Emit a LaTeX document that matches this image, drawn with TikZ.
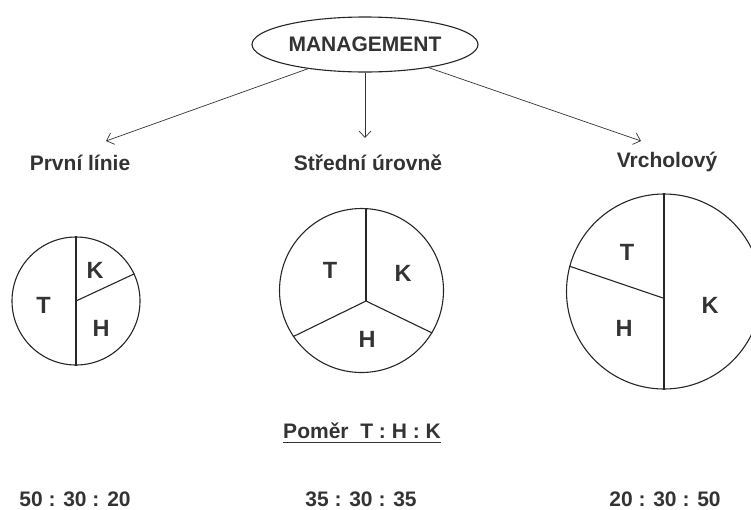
\documentclass[tikz,border=0pt]{standalone}
\usepackage{fontspec}
\setmainfont{Liberation Sans}
\usetikzlibrary{arrows.meta,shapes.geometric}
\definecolor{ink}{HTML}{333333}
\begin{document}
\begin{tikzpicture}[x=1pt,y=-1pt,
  txt/.style={font=\fontsize{21}{21}\selectfont\bfseries, text=ink, inner sep=0pt},
  lbl/.style={txt, anchor=base},
  part/.style={txt, font=\fontsize{23.5}{23.5}\selectfont\bfseries},
  pie/.style={circle, draw=black!85, line width=1.1pt, inner sep=0pt},
  divider/.style={draw=black!85, line width=1.1pt},
  arr/.style={draw=black!80, line width=0.7pt, -{Straight Barb[length=6.5pt,width=12pt]}}]
\useasboundingbox (0,0) rectangle (751,509);

% top node
\node[ellipse, draw=black!85, line width=1.1pt, minimum width=226pt, minimum height=55pt, txt]
  (mgmt) at (365,44.5) {MANAGEMENT};

% level headings
\node[lbl] (l1) at (80,170.5) {První línie};
\node[lbl] (l2) at (368,170) {Střední úrovně};
\node[lbl] (l3) at (667,167) {Vrcholový};

\coordinate (t1) at (106,141);
\coordinate (t2) at (365,138);
\coordinate (t3) at (641,141);
\draw[arr] (mgmt.203) -- (t1);
\draw[arr] (mgmt.south) -- (t2);
\draw[arr] (mgmt.340.7) -- (t3);

% first line: 50 : 30 : 20
\node[pie, minimum size=128pt] (c1) at (76,301) {};
\draw[divider] (c1.north) -- (c1.south);
\draw[divider] (c1.center) -- (c1.25);
\node[part] (c1t) at (43.5,305) {T};
\node[part] (c1k) at (95,270) {K};
\node[part] (c1h) at (101,328) {H};

% middle level: 35 : 30 : 35
\node[pie, minimum size=164pt] (c2) at (361.5,290.5) {};
\coordinate (j2) at (366,301);
\draw[divider] (j2) -- (j2 |- c2.north);
\draw[divider] (j2) -- (c2.214);
\draw[divider] (j2) -- (c2.329);
\node[part] (c2t) at (330,270) {T};
\node[part] (c2k) at (403,273) {K};
\node[part] (c2h) at (367,339) {H};

% top level: 20 : 30 : 50
\node[pie, minimum size=195pt] (c3) at (664,291.5) {};
\coordinate (j3) at (663,298);
\draw[divider] (c3.north) -- (c3.south);
\draw[divider] (j3) -- (c3.165);
\node[part] (c3t) at (627,252) {T};
\node[part] (c3h) at (624,328) {H};
\node[part] (c3k) at (710,305) {K};

% ratio legend
\node[lbl] (ratio) at (362,438) {Poměr\ \ T : H : K};
\draw[draw=black!80, line width=1pt] ([yshift=-4pt]ratio.base west) -- ([yshift=-4pt]ratio.base east);

\node[lbl] (r1) at (75,506) {50 : 30 : 20};
\node[lbl] (r2) at (361,506) {35 : 30 : 35};
\node[lbl] (r3) at (665,506) {20 : 30 : 50};
\end{tikzpicture}
\end{document}
